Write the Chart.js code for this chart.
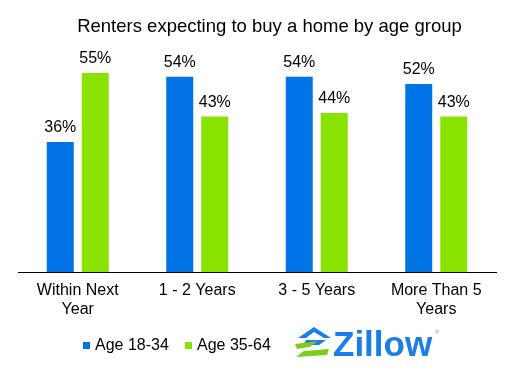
<!DOCTYPE html>
<html>
<head>
<meta charset="utf-8">
<script src="https://cdn.jsdelivr.net/npm/chart.js@4/dist/chart.umd.min.js"></script>
<style>
  body { margin: 0; background: #fff; }
  #wrap { width: 508px; height: 374px; position: relative; }
</style>
</head>
<body>
<div id="wrap"><canvas id="barGraph"></canvas></div>
<script>
// chart data
var chartTitle = 'Renters expecting to buy a home by age group';
var categories = [['Within Next', 'Year'], '1 - 2 Years', '3 - 5 Years', ['More Than 5', 'Years']];
var seriesNames = ['Age 18-34', 'Age 35-64'];
var youngValues = [36, 54, 54, 52];
var olderValues = [55, 43, 44, 43];
var seriesColors = ['#0074E4', '#8AE200'];

var FONT = '"Liberation Sans", Arial, sans-serif';

// draws title, value labels, legend and the logo
var extrasPlugin = {
    id: 'extras',
    afterDatasetsDraw: function (chart) {
        var ctx = chart.ctx;
        ctx.save();

        // title
        ctx.fillStyle = '#000';
        ctx.font = '18.5px ' + FONT;
        ctx.textAlign = 'center';
        ctx.textBaseline = 'alphabetic';
        ctx.fillText(chartTitle, 269.5, 32);

        // percent labels above the bars
        ctx.font = '16px ' + FONT;
        chart.data.datasets.forEach(function (ds, i) {
            chart.getDatasetMeta(i).data.forEach(function (bar, j) {
                ctx.fillText(ds.data[j] + '%', bar.x, bar.y - 10);
            });
        });

        // legend
        ctx.textAlign = 'left';
        var legendX = [83, 185];
        chart.data.datasets.forEach(function (ds, i) {
            ctx.fillStyle = ds.backgroundColor;
            ctx.fillRect(legendX[i], 342, 7, 7);
            ctx.fillStyle = '#000';
            ctx.fillText(ds.label, legendX[i] + 12, 350);
        });

        // zillow logo
        ctx.fillStyle = '#1A7EE6';
        ctx.beginPath();
        ctx.moveTo(298, 338); ctx.lineTo(314, 327); ctx.lineTo(331, 338);
        ctx.lineTo(324, 338); ctx.lineTo(314, 332); ctx.lineTo(306, 338);
        ctx.closePath(); ctx.fill();
        ctx.beginPath();
        ctx.moveTo(306, 340); ctx.lineTo(326, 340); ctx.lineTo(319, 345); ctx.lineTo(303, 345);
        ctx.closePath(); ctx.fill();
        ctx.fillStyle = '#7DCB1F';
        ctx.beginPath();
        ctx.moveTo(295, 344); ctx.lineTo(318, 341); ctx.lineTo(304, 351);
        ctx.lineTo(329, 349); ctx.lineTo(327, 355); ctx.lineTo(296, 357);
        ctx.lineTo(309, 347); ctx.lineTo(297, 349);
        ctx.closePath(); ctx.fill();

        ctx.fillStyle = '#1A7EE6';
        ctx.font = 'bold 35px ' + FONT;
        ctx.fillText('Zillow', 333, 356);
        ctx.fillStyle = '#999';
        ctx.font = '6px ' + FONT;
        ctx.fillText('®', 435, 334);

        ctx.restore();
    }
};

var canvas = document.getElementById('barGraph');

var barGraph = new Chart(canvas, {
    type: 'bar',
    data: {
        labels: categories,
        datasets: [{
            label: seriesNames[0],
            data: youngValues,
            backgroundColor: seriesColors[0]
        }, {
            label: seriesNames[1],
            data: olderValues,
            backgroundColor: seriesColors[1]
        }]
    },
    options: {
        responsive: true,
        maintainAspectRatio: false,
        animation: false,
        categoryPercentage: 0.586,
        barPercentage: 0.771,
        layout: {
            padding: { left: 18, right: 12, top: 55, bottom: 46.6 }
        },
        scales: {
            x: {
                grid: { display: false, drawTicks: false },
                border: { color: '#000', width: 1 },
                ticks: {
                    color: '#000',
                    padding: 8,
                    maxRotation: 0,
                    font: { family: FONT, size: 16, lineHeight: 1.22 }
                }
            },
            y: {
                display: false,
                min: 0,
                max: 60
            }
        },
        plugins: {
            legend: { display: false },
            tooltip: { enabled: false }
        }
    },
    plugins: [extrasPlugin]
});
</script>
</body>
</html>
